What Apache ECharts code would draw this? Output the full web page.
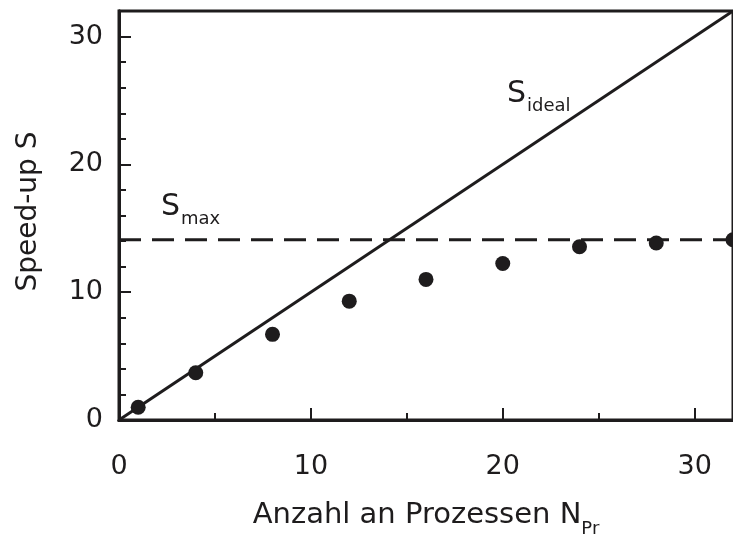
<!DOCTYPE html>
<html>
<head>
<meta charset="utf-8">
<script src="https://cdn.jsdelivr.net/npm/echarts@6/dist/echarts.min.js"></script>
<style>
html,body{margin:0;padding:0;background:#fff;}
#chart{width:733px;height:543px;}
</style>
</head>
<body>
<div id="chart"></div>
<script>
// ---- data ----
const processes = [1, 4, 8, 12, 16, 20, 24, 28, 32];
const speedup = [1.0, 3.7, 6.7, 9.3, 11.0, 12.25, 13.55, 13.85, 14.1];
const idealN = [0, 32];
const sMax = 14.1;
const xTitle = 'Anzahl an Prozessen N';
const xTitleSub = 'Pr';
const yTitle = 'Speed-up S';

const INK = '#1e1c1d';
const FONT = 'DejaVu Sans';

const scatterData = processes.map((n, i) => [n, speedup[i]]);
const idealData = idealN.map(n => [n, n]);
const smaxData = idealN.map(n => [n, sMax]);

const chart = echarts.init(document.getElementById('chart'), null, {renderer: 'canvas'});

const baseAxis = {
  type: 'value', min: 0, max: 32,
  splitLine: {show: false},
  axisLine: {show: true, onZero: false, lineStyle: {color: INK, width: 3}}
};

chart.setOption({
  animation: false,
  backgroundColor: '#fff',
  grid: {left: 119, top: 11, right: -6, bottom: 123, show: true, borderColor: INK, borderWidth: 3, backgroundColor: 'transparent'},
  xAxis: [
    Object.assign({}, baseAxis, {
      position: 'bottom', interval: 10,
      axisTick: {show: true, inside: true, length: 12, lineStyle: {color: INK, width: 2}},
      axisLabel: {show: true, margin: 33, color: INK, fontFamily: FONT, fontSize: 27, showMaxLabel: false},
      name: '{m|' + xTitle + '}{s|' + xTitleSub + '}',
      nameLocation: 'middle', nameGap: 81,
      nameTextStyle: {
        color: INK, fontFamily: FONT,
        rich: {
          m: {fontSize: 29, fontFamily: FONT, color: INK, padding: [0, 0, 8, 0], verticalAlign: 'bottom'},
          s: {fontSize: 18, fontFamily: FONT, color: INK, verticalAlign: 'bottom'}
        }
      }
    }),
    Object.assign({}, baseAxis, {
      position: 'bottom', interval: 5,
      axisTick: {show: true, inside: true, length: 7, lineStyle: {color: INK, width: 2}},
      axisLabel: {show: false}
    })
  ],
  yAxis: [
    Object.assign({}, baseAxis, {
      position: 'left', interval: 10,
      axisTick: {show: true, inside: true, length: 12, lineStyle: {color: INK, width: 2}},
      axisLabel: {show: true, margin: 16, color: INK, fontFamily: FONT, fontSize: 27, showMaxLabel: false},
      name: yTitle, nameLocation: 'middle', nameGap: 76, nameRotate: 90,
      nameTextStyle: {color: INK, fontFamily: FONT, fontSize: 28, padding: [0, 0, 0, 8]}
    }),
    Object.assign({}, baseAxis, {
      position: 'left', interval: 2,
      axisTick: {show: true, inside: true, length: 7, lineStyle: {color: INK, width: 2}},
      axisLabel: {show: false}
    })
  ],
  series: [
    {
      type: 'line', data: idealData, xAxisIndex: 0, yAxisIndex: 0,
      symbol: 'none', lineStyle: {color: INK, width: 3}, clip: true, z: 3
    },
    {
      type: 'line', data: smaxData, xAxisIndex: 0, yAxisIndex: 0,
      symbol: 'none', lineStyle: {color: INK, width: 3, type: [22, 11]}, clip: true, z: 3
    },
    {
      type: 'scatter', data: scatterData, xAxisIndex: 0, yAxisIndex: 0,
      symbol: 'circle', symbolSize: 15, itemStyle: {color: INK, opacity: 1}, z: 4
    }
  ],
  graphic: [
    {type: 'text', left: 507, top: 79, style: {text: 'S', fontFamily: FONT, fontSize: 30, fill: INK}},
    {type: 'text', left: 527, top: 97, style: {text: 'ideal', fontFamily: FONT, fontSize: 18, fill: INK}},
    {type: 'text', left: 161, top: 192, style: {text: 'S', fontFamily: FONT, fontSize: 30, fill: INK}},
    {type: 'text', left: 181, top: 210, style: {text: 'max', fontFamily: FONT, fontSize: 18, fill: INK}}
  ]
});
</script>
</body>
</html>
